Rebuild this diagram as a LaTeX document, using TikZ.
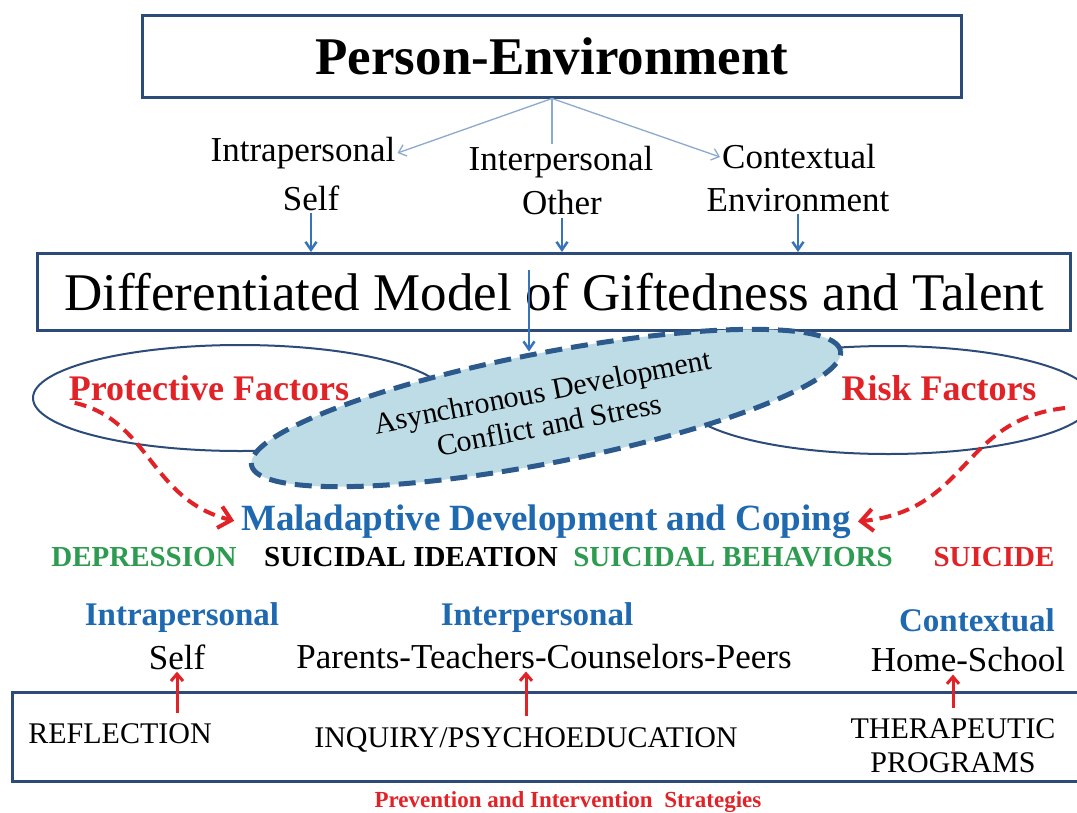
\documentclass[tikz,border=0pt]{standalone}
\usepackage{fontspec}
\setmainfont{Liberation Serif}
\usepackage{tikz}
\usetikzlibrary{arrows.meta, shapes.geometric, positioning}
\definecolor{framecolor}{RGB}{45, 75, 120}
\definecolor{linkcolor}{RGB}{140, 170, 205}
\definecolor{flowcolor}{RGB}{55, 115, 185}
\definecolor{headcolor}{RGB}{30, 105, 175}
\definecolor{riskcolor}{RGB}{225, 35, 40}
\definecolor{greencolor}{RGB}{45, 155, 80}
\definecolor{stresscolor}{RGB}{190, 220, 230}
\definecolor{dashcolor}{RGB}{45, 90, 140}
\newcommand{\pxfont}[2]{\fontsize{#1}{#2}\selectfont}

\begin{document}
\begin{tikzpicture}[x=1pt, y=-1pt,
    every node/.style={inner sep=2pt},
    frame/.style={draw=framecolor, line width=3pt},
    thinlink/.style={-{Straight Barb[length=7pt,width=12pt]}, linkcolor, line width=1.3pt},
    flow/.style={-{Straight Barb[length=8pt,width=11pt]}, flowcolor, line width=2.5pt},
    riskflow/.style={-{Straight Barb[length=12pt,width=22pt]}, riskcolor, line width=4pt, dash pattern=on 12pt off 7pt, shorten >=5pt},
    upflow/.style={-{Straight Barb[length=7pt,width=12pt]}, riskcolor, line width=3pt, shorten <=9pt}]
    \useasboundingbox (0,0) rectangle (1077,812);
    \fill[white] (0,0) rectangle (1077,812);

    % Person-Environment
    \node[frame, minimum width=819pt, minimum height=82pt, font=\pxfont{53}{58}\bfseries] (pe) at (552,56) {Person-Environment};
    \node[font=\pxfont{35}{38}] (intra1) at (303,153) {Intrapersonal};
    \node[font=\pxfont{35}{38}] (self1) at (311,198) {Self};
    \node[font=\pxfont{35}{38}] (inter1) at (561,162) {Interpersonal};
    \node[font=\pxfont{35}{38}] (other1) at (562,203) {Other};
    \node[font=\pxfont{35}{38}] (ctx1) at (799,157) {Contextual};
    \node[font=\pxfont{35}{38}] (env1) at (798,200) {Environment};
    \draw[thinlink] (pe.south) -- (intra1.east);
    \draw[linkcolor, line width=1.3pt] (pe.south) -- (pe.south |- inter1.north);
    \draw[thinlink] (pe.south) -- (ctx1.west);

    % DMGT
    \node[frame, minimum width=1033pt, minimum height=77pt, font=\pxfont{53}{58}] (dm) at (554,292) {Differentiated Model of Giftedness and Talent};
    \draw[flow] (self1.south) -- (self1.south |- dm.north);
    \draw[flow] (other1.south) -- (other1.south |- dm.north);
    \draw[flow] (env1.south) -- (env1.south |- dm.north);

    % Protective / risk ellipses
    \draw[framecolor, line width=2pt] (240,398) ellipse [x radius=207pt, y radius=53pt];
    \draw[framecolor, line width=2pt] (888,400) ellipse [x radius=205pt, y radius=54pt];
    \node[font=\pxfont{36}{40}\bfseries, text=riskcolor] (prot) at (209,388) {Protective Factors};
    \node[font=\pxfont{36}{40}\bfseries, text=riskcolor] (risk) at (939,388) {Risk Factors};

    % Asynchronous development
    \node[ellipse, draw=dashcolor, fill=stresscolor, line width=5pt, dash pattern=on 17pt off 9pt, rotate=11,
          minimum width=600pt, minimum height=110pt, align=center, font=\pxfont{30}{34}] (asy) at (546,408)
          {Asynchronous Development\\Conflict and Stress};
    \coordinate (dm-split) at (529,270);
    \draw[flow] (dm-split) -- (dm-split |- asy.north);

    % Maladaptive development
    \node[font=\pxfont{37}{40}\bfseries, text=headcolor] (mal) at (546,522) {Maladaptive Development and Coping};
    \draw[riskflow] ([xshift=8pt]prot.south west) .. controls (150,420) and (150,500) .. (mal.west);
    \coordinate (risk-out) at (1065,408);
    \draw[riskflow] (risk-out) .. controls (960,420) and (970,510) .. (mal.east);

    \node[font=\pxfont{29}{32}\bfseries, text=greencolor] (dep) at (144,557) {DEPRESSION};
    \node[font=\pxfont{29}{32}\bfseries] (idea) at (411,557) {SUICIDAL IDEATION};
    \node[font=\pxfont{29}{32}\bfseries, text=greencolor] (behav) at (733,557) {SUICIDAL BEHAVIORS};
    \node[font=\pxfont{29}{32}\bfseries, text=riskcolor] (sui) at (994,557) {SUICIDE};

    % Levels
    \node[font=\pxfont{33}{36}\bfseries, text=headcolor] (intra2) at (182,618) {Intrapersonal};
    \node[font=\pxfont{33}{36}\bfseries, text=headcolor] (inter2) at (537,618) {Interpersonal};
    \node[font=\pxfont{33}{36}\bfseries, text=headcolor] (ctx2) at (977,620) {Contextual};
    \node[font=\pxfont{35}{38}] (self2) at (177,657) {Self};
    \node[font=\pxfont{35}{38}] (par) at (544,657) {Parents-Teachers-Counselors-Peers};
    \node[font=\pxfont{35}{38}] (home) at (968,660) {Home-School};

    % Prevention and intervention
    \node[frame, minimum width=1068pt, minimum height=89pt] (strat) at (546,737) {};
    \node[font=\pxfont{30}{34}] (refl) at (120,734) {REFLECTION};
    \node[font=\pxfont{30}{34}] (inq) at (526,740) {INQUIRY/PSYCHOEDUCATION};
    \node[font=\pxfont{30}{34}, align=center] (ther) at (953,746) {THERAPEUTIC\\PROGRAMS};
    \draw[upflow] (self2.south |- refl.north) -- (self2.south);
    \draw[upflow] (inq.north) -- (inq.north |- par.south);
    \draw[upflow] (ther.north) -- (ther.north |- home.south);
    \node[font=\pxfont{23}{26}\bfseries, text=riskcolor] (prev) at (568,802) {Prevention and Intervention~ Strategies};

\end{tikzpicture}
\end{document}
